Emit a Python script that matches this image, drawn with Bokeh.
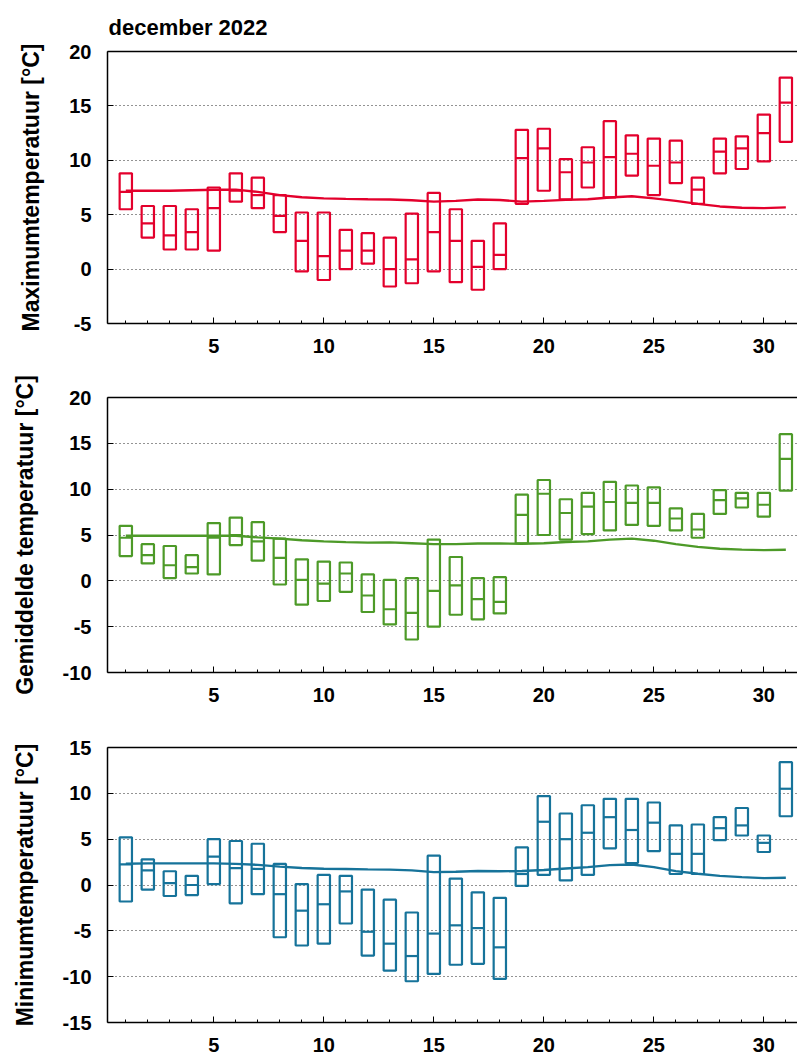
from bokeh.plotting import figure
from bokeh.models import Range1d, FixedTicker, LinearAxis
from bokeh.layouts import column
from bokeh.embed import file_html
from bokeh.resources import INLINE

days = list(range(1, 32))
x_ticks = [5, 10, 15, 20, 25, 30]

# Maximum temperature
tmax_high = [8.8, 5.8, 5.8, 5.5, 7.5, 8.8, 8.4, 6.8, 5.2, 5.2, 3.6, 3.3, 2.9, 5.1, 7.0, 5.5,
             2.6, 4.2, 12.8, 12.9, 10.1, 11.2, 13.6, 12.3, 12.0, 11.8, 8.4, 12.0, 12.2, 14.2, 17.6]
tmax_low = [5.5, 2.9, 1.8, 1.8, 1.7, 6.2, 5.6, 3.4, -0.2, -1.0, 0.0, 0.5, -1.6, -1.3, -0.2, -1.2,
            -1.9, 0.0, 6.0, 7.2, 6.4, 7.5, 6.6, 8.6, 6.8, 7.9, 6.0, 8.8, 9.2, 9.9, 11.7]
tmax_med = [7.1, 4.2, 3.1, 3.4, 5.6, 7.2, 6.8, 4.9, 2.6, 1.2, 1.7, 1.7, 0.0, 0.9, 3.4, 2.6,
            0.2, 1.3, 10.2, 11.1, 8.9, 9.8, 10.3, 10.6, 9.5, 9.8, 7.3, 10.8, 11.1, 12.5, 15.3]
tmax_norm = [7.2, 7.2, 7.2, 7.25, 7.3, 7.3, 7.1, 6.8, 6.6, 6.5, 6.45, 6.42, 6.4, 6.33, 6.2, 6.27,
             6.4, 6.35, 6.2, 6.27, 6.36, 6.42, 6.58, 6.7, 6.5, 6.27, 6.0, 5.76, 5.64, 5.6, 5.67]
tmax_yticks = [-5, 0, 5, 10, 15, 20]

# Mean temperature
tavg_high = [6.0, 4.0, 3.8, 2.8, 6.3, 6.9, 6.4, 4.6, 2.35, 2.1, 2.0, 0.7, 0.1, 0.3, 4.5, 2.6,
             0.3, 0.4, 9.4, 11.0, 8.9, 9.6, 10.8, 10.4, 10.2, 7.9, 7.3, 9.9, 9.6, 9.6, 16.0]
tavg_low = [2.7, 1.9, 0.3, 0.8, 0.7, 3.9, 2.2, -0.4, -2.6, -2.2, -1.2, -3.4, -4.75, -6.4, -5.0, -3.7,
            -4.2, -3.55, 4.1, 5.0, 4.5, 5.1, 5.5, 6.1, 6.0, 5.5, 4.7, 7.3, 8.0, 7.0, 9.85]
tavg_med = [4.7, 2.8, 1.7, 1.5, 4.7, 5.0, 4.3, 2.5, 0.1, -0.3, 0.8, -1.6, -3.1, -3.5, -1.1, -0.5,
            -2.0, -2.3, 7.2, 9.5, 7.4, 8.1, 8.6, 8.5, 8.5, 6.8, 5.6, 8.8, 9.0, 8.3, 13.3]
tavg_norm = [4.92, 4.92, 4.92, 4.92, 4.92, 4.92, 4.74, 4.6, 4.42, 4.3, 4.22, 4.17, 4.2, 4.1, 4.0, 4.0,
             4.07, 4.07, 4.04, 4.1, 4.24, 4.31, 4.5, 4.6, 4.38, 4.0, 3.7, 3.5, 3.4, 3.35, 3.39]
tavg_yticks = [-10, -5, 0, 5, 10, 15, 20]

# Minimum temperature
tmin_high = [5.2, 2.8, 1.5, 1.0, 5.0, 4.8, 4.5, 2.3, 0.1, 1.1, 1.0, -0.5, -1.6, -3.0, 3.2, 0.7,
             -0.8, -1.4, 4.1, 9.7, 7.8, 8.7, 9.4, 9.4, 9.0, 6.5, 6.6, 7.4, 8.4, 5.4, 13.4]
tmin_low = [-1.8, -0.5, -1.2, -1.1, 0.1, -2.0, -1.0, -5.7, -6.6, -6.4, -4.2, -7.7, -9.35, -10.5, -9.7, -8.7,
            -8.6, -10.25, -0.1, 1.1, 0.5, 1.1, 4.0, 2.4, 3.7, 1.2, 1.2, 4.9, 5.4, 3.6, 7.5]
tmin_med = [2.25, 1.6, 0.2, 0.0, 3.1, 1.85, 1.75, -1.0, -2.8, -2.1, -0.7, -5.1, -6.4, -7.75, -5.3, -4.4,
            -4.7, -6.8, 1.2, 6.9, 5.0, 5.7, 7.4, 6.0, 6.8, 3.4, 3.4, 6.2, 6.5, 4.6, 10.5]
tmin_norm = [2.32, 2.36, 2.36, 2.36, 2.36, 2.3, 2.2, 2.0, 1.85, 1.78, 1.74, 1.7, 1.68, 1.6, 1.41, 1.45,
             1.52, 1.5, 1.52, 1.63, 1.8, 1.95, 2.17, 2.24, 1.95, 1.52, 1.23, 1.0, 0.86, 0.75, 0.79]
tmin_yticks = [-15, -10, -5, 0, 5, 10, 15]

BOX_W = 0.56
FONT = "Liberation Sans"


def panel(high, low, med, norm, color, ylabel, yticks, height, btop, bbottom, title=None):
    p = figure(width=797, height=height, output_backend="svg", toolbar_location=None,
               x_range=Range1d(0.168, 31.53), y_range=Range1d(yticks[0], yticks[-1]),
               min_border_left=107, min_border_right=0, min_border_top=btop,
               min_border_bottom=bbottom)
    p.background_fill_color = "white"
    p.border_fill_color = "white"
    p.outline_line_color = None

    if title:
        p.title.text = title
        p.title.text_font = FONT
        p.title.text_font_size = "22px"
        p.title.text_font_style = "bold"
        p.title.text_color = "black"
        p.title.align = "left"
        p.title.offset = 1
        p.title.standoff = 24

    left = [d - BOX_W / 2 for d in days]
    right = [d + BOX_W / 2 for d in days]
    p.vbar(x=days, width=BOX_W, top=high, bottom=low, fill_color=None,
           line_color=color, line_width=2.2)
    p.segment(x0=left, y0=med, x1=right, y1=med, line_color=color, line_width=2.2)
    p.line(days, norm, line_color=color, line_width=2.4)

    xa = p.xaxis[0]
    xa.ticker = FixedTicker(ticks=x_ticks, minor_ticks=days)
    xa.major_tick_in = 6
    xa.major_tick_out = 0
    xa.minor_tick_in = 3
    xa.minor_tick_out = 0
    xa.major_tick_line_color = "black"
    xa.minor_tick_line_color = "black"
    xa.axis_line_width = 1.5
    xa.major_label_text_font = FONT
    xa.major_label_text_font_size = "20px"
    xa.major_label_text_font_style = "bold"
    xa.major_label_text_color = "black"
    xa.major_label_standoff = 15

    ya = p.yaxis[0]
    ya.ticker = FixedTicker(ticks=yticks, minor_ticks=[])
    ya.major_label_overrides = {t: str(t) for t in yticks}
    ya.major_tick_in = 6
    ya.major_tick_out = 0
    ya.axis_line_width = 1.5
    ya.major_label_text_font = FONT
    ya.major_label_text_font_size = "20px"
    ya.major_label_text_font_style = "bold"
    ya.major_label_text_color = "black"
    ya.major_label_standoff = 16
    ya.axis_label = ylabel
    ya.axis_label_text_font = FONT
    ya.axis_label_text_font_size = "23px"
    ya.axis_label_text_font_style = "bold"
    ya.axis_label_text_color = "black"
    ya.axis_label_standoff = 22

    top_line = LinearAxis(ticker=FixedTicker(ticks=[], minor_ticks=[]),
                          axis_line_width=1.5, major_tick_in=0, major_tick_out=0,
                          minor_tick_in=0, minor_tick_out=0)
    p.add_layout(top_line, "above")

    p.xgrid.visible = False
    p.ygrid.ticker = FixedTicker(ticks=yticks[1:-1])
    p.ygrid.grid_line_color = "black"
    p.ygrid.grid_line_dash = "1 3"
    p.ygrid.grid_line_width = 1
    p.ygrid.grid_line_alpha = 0.85
    return p


p1 = panel(tmax_high, tmax_low, tmax_med, tmax_norm, "#e3002c",
           "Maximumtemperatuur [°C]", tmax_yticks, 360, 48, 37, title="december 2022")
p2 = panel(tavg_high, tavg_low, tavg_med, tavg_norm, "#4d9a28",
           "Gemiddelde temperatuur [°C]", tavg_yticks, 350, 37, 38)
p3 = panel(tmin_high, tmin_low, tmin_med, tmin_norm, "#16739a",
           "Minimumtemperatuur [°C]", tmin_yticks, 349, 37, 37)

layout = column(p1, p2, p3, spacing=0)
open("out.html", "w").write(file_html(layout, INLINE))
